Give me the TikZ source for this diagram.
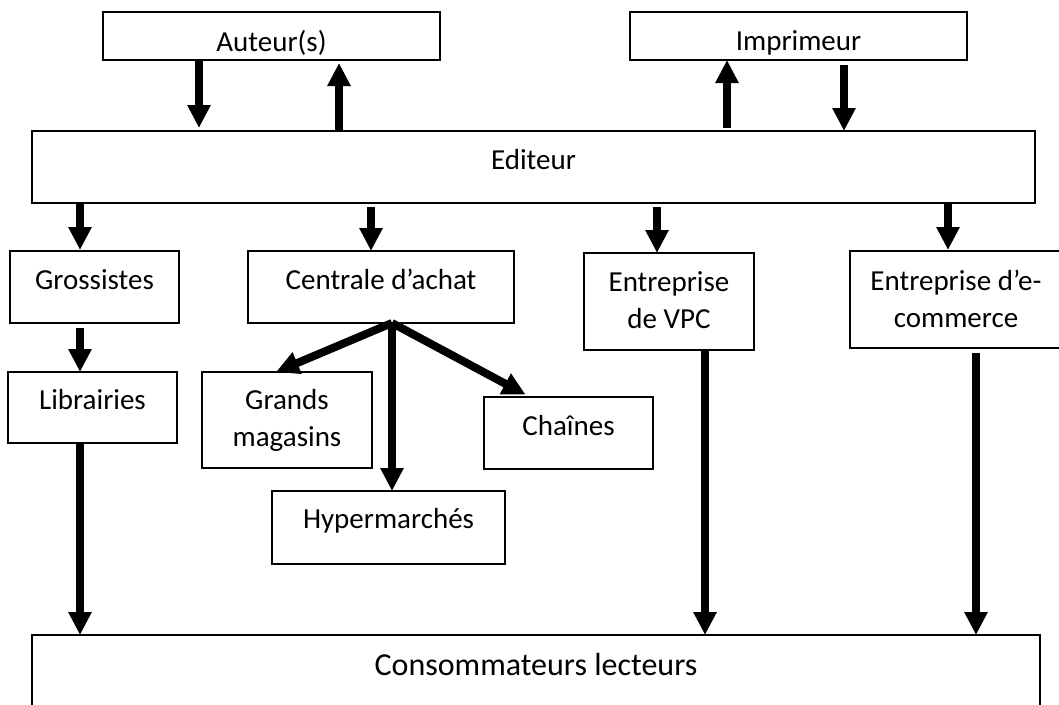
\documentclass[tikz,border=0pt]{standalone}
\usepackage{fontspec}
\setmainfont{Carlito}
\usetikzlibrary{arrows.meta}
\begin{document}
\begin{tikzpicture}[x=1pt,y=-1pt,
  box/.style={draw, line width=1.3pt, rectangle, outer sep=0pt, inner sep=0pt},
  lbl/.style={font=\fontsize{29}{37}\selectfont, anchor=base, inner sep=0pt, align=center},
  flow/.style={line width=8pt, -{Triangle[width=22pt,length=23pt]}}]
\useasboundingbox (0,0) rectangle (1059,704);

% frames
\node[box, minimum width=337, minimum height=48]  (aut) at (271.5,36) {};
\node[box, minimum width=337, minimum height=48]  (imp) at (798.5,36) {};
\node[box, minimum width=1003, minimum height=72] (edi) at (533.5,167) {};
\node[box, minimum width=169, minimum height=72]  (gro) at (94.5,287) {};
\node[box, minimum width=266, minimum height=72]  (cen) at (381,287) {};
\node[box, minimum width=169, minimum height=71]  (lib) at (92.5,407.5) {};
\node[box, minimum width=170, minimum height=96]  (gra) at (287,420) {};
\node[box, minimum width=169, minimum height=72]  (cha) at (568.5,433) {};
\node[box, minimum width=233, minimum height=73]  (hyp) at (388.5,527.5) {};
\node[box, minimum width=170, minimum height=97]  (vpc) at (669,301.5) {};
\node[box, minimum width=212, minimum height=97]  (eco) at (956,299.5) {};
\node[box, minimum width=1008, minimum height=85] (con) at (536,677.5) {};

% texts (base anchor = baseline of the last line)
\node[lbl] (aut-t) at (271.5,51) {Auteur(s)};
\node[lbl] (imp-t) at (798.5,50) {Imprimeur};
\node[lbl] (edi-t) at (533.5,169) {Editeur};
\node[lbl] (gro-t) at (94.5,289) {Grossistes};
\node[lbl] (cen-t) at (381,289) {Centrale d’achat};
\node[lbl] (lib-t) at (92.5,409) {Librairies};
\node[lbl] (gra-t) at (287,446) {Grands\\magasins};
\node[lbl] (cha-t) at (568.5,435) {Chaînes};
\node[lbl] (hyp-t) at (388.5,528) {Hypermarchés};
\node[lbl] (vpc-t) at (669,328) {Entreprise\\de VPC};
\node[lbl] (eco-t) at (956,327) {Entreprise d’e-\\commerce};
\node[lbl, font=\fontsize{32}{38}\selectfont] (con-t) at (536,675) {Consommateurs lecteurs};

% flows
\draw[flow, shorten <=1pt, shorten >=3pt] (aut.south -| 199,0) -- (edi.north -| 199,0);
\draw[flow, shorten >=3pt] (edi.north -| 339,0) -- (aut.south -| 339,0);
\draw[flow, shorten <=3pt] (edi.north -| 727,0) -- (imp.south -| 727,0);
\draw[flow, shorten <=5pt] (imp.south -| 844,0) -- (edi.north -| 844,0);

\draw[flow, shorten >=1pt] (edi.south -| 80,0) -- (gro.north -| 80,0);
\draw[flow, shorten <=4pt] (edi.south -| 371,0) -- (cen.north -| 371,0);
\draw[flow, shorten <=4pt] (edi.south -| 657,0) -- (vpc.north -| 657,0);
\draw[flow, shorten >=1pt] (edi.south -| 948,0) -- (eco.north -| 948,0);

\draw[flow, shorten <=5pt] (gro.south -| 80,0) -- (lib.north -| 80,0);
\draw[flow] (lib.south -| 80,0) -- (con.north -| 80,0);
\draw[flow] (vpc.south -| 705,0) -- (con.north -| 705,0);
\draw[flow, shorten <=5pt] (eco.south -| 976,0) -- (con.north -| 976,0);

\coordinate (fan) at (cen.south -| 392,0);
\draw[flow] (fan) -- (gra.north -| 276,0);
\draw[flow, shorten >=5pt] (fan) -- (cha.north -| 530,0);
\draw[flow] (fan) -- (hyp.north -| 392,0);
\end{tikzpicture}
\end{document}
